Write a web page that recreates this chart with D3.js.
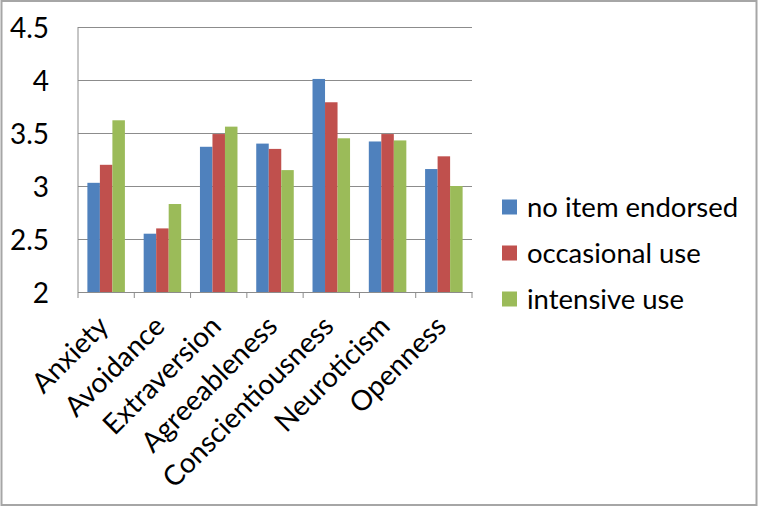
<!DOCTYPE html>
<html>
<head>
<meta charset="utf-8">
<script src="https://cdn.jsdelivr.net/npm/d3@7"></script>
<style>
  html, body { margin: 0; padding: 0; background: #fff; }
  text { font-family: Lato, "Open Sans", sans-serif; fill: #000; }
</style>
</head>
<body>
<script>
// data
const categories = ["Anxiety", "Avoidance", "Extraversion", "Agreeableness", "Conscientiousness", "Neuroticism", "Openness"];
const seriesNames = ["no item endorsed", "occasional use", "intensive use"];
const noItem = [3.03, 2.55, 3.37, 3.40, 4.01, 3.42, 3.16];
const occasional = [3.20, 2.60, 3.49, 3.35, 3.79, 3.49, 3.28];
const intensive = [3.62, 2.83, 3.56, 3.15, 3.45, 3.43, 3.00];
const yTicks = [2, 2.5, 3, 3.5, 4, 4.5];
const colors = ["#4F81BD", "#C0504D", "#9BBB59"];

const series = [noItem, occasional, intensive];
const width = 759, height = 508;
const plot = {left: 78, right: 472, top: 27, bottom: 292};

const svg = d3.select("body").append("svg")
  .attr("width", width).attr("height", height);

// chart border
svg.append("rect").attr("x", 1.5).attr("y", 1).attr("width", 755).attr("height", 504)
  .attr("fill", "#fff").attr("stroke", "#a6a6a6").attr("stroke-width", 2);

const x = d3.scaleBand().domain(categories).range([plot.left, plot.right]).paddingInner(0).paddingOuter(0);
const xInner = d3.scaleBand().domain(d3.range(series.length)).range([0, x.bandwidth()])
  .paddingInner(0).paddingOuter(0.75);
const y = d3.scaleLinear().domain([2, 4.5]).range([plot.bottom, plot.top]);

// gridlines + y labels
const yAxis = svg.append("g").attr("transform", `translate(${plot.left},0)`)
  .call(d3.axisLeft(y).tickValues(yTicks).tickSize(10).tickFormat(d3.format("")));
yAxis.select(".domain").remove();
yAxis.selectAll(".tick line").attr("stroke", "#8c8c8c").attr("x2", plot.right - plot.left);
yAxis.selectAll(".tick text").attr("x", -29).attr("dy", "0.36em")
  .style("font-size", "28px").style("font-family", "Lato, sans-serif");

// bars
const groups = svg.append("g").selectAll("g").data(categories).join("g")
  .attr("transform", d => `translate(${x(d)},0)`);
groups.selectAll("rect").data((d, i) => series.map((s, k) => ({k, v: s[i]}))).join("rect")
  .attr("x", d => xInner(d.k)).attr("width", xInner.bandwidth())
  .attr("y", d => y(d.v)).attr("height", d => y(2) - y(d.v))
  .attr("fill", d => colors[d.k]);

// x axis
const xAxis = svg.append("g").attr("transform", `translate(0,${plot.bottom})`)
  .call(d3.axisBottom(x).tickSize(0).tickFormat(""));
xAxis.select(".domain").attr("stroke", "#8c8c8c");
const edges = categories.map(c => x(c)).concat([plot.right]);
xAxis.selectAll(".edge").data(edges).join("line").attr("class", "edge")
  .attr("x1", d => d).attr("x2", d => d).attr("y1", 0).attr("y2", 6)
  .attr("stroke", "#8c8c8c");
svg.append("line").attr("x1", plot.left).attr("x2", plot.left)
  .attr("y1", plot.top).attr("y2", plot.bottom).attr("stroke", "#8c8c8c");

svg.append("g").selectAll("text").data(categories).join("text")
  .attr("text-anchor", "end")
  .attr("transform", d => `translate(${x(d) + x.bandwidth() / 2 + 4},${plot.bottom + 36}) rotate(-45)`)
  .style("font-size", "28px")
  .text(d => d);

// legend
const legend = svg.append("g").selectAll("g").data(seriesNames).join("g")
  .attr("transform", (d, i) => `translate(502,${207 + i * 46})`);
legend.append("rect").attr("x", 0).attr("y", -7.5).attr("width", 15).attr("height", 15)
  .attr("fill", (d, i) => colors[i]);
legend.append("text").attr("x", 25).attr("dy", "0.36em").style("font-size", "27.5px").text(d => d);
</script>
</body>
</html>
